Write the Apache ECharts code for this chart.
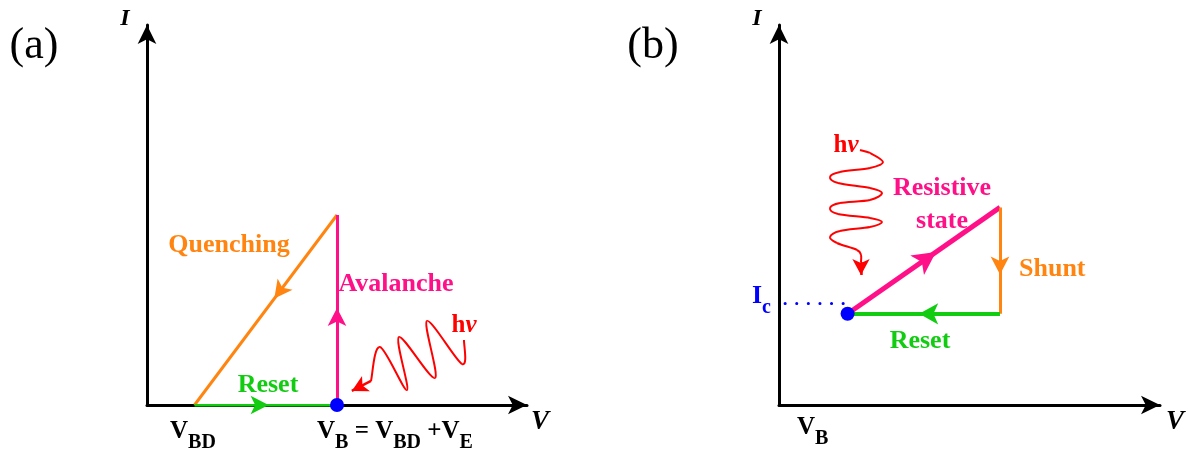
<!DOCTYPE html>
<html>
<head>
<meta charset="utf-8">
<script src="https://cdn.jsdelivr.net/npm/echarts@6/dist/echarts.min.js"></script>
<style>
  html, body { margin: 0; padding: 0; background: #fff; }
  #chart { width: 1188px; height: 450px; }
</style>
</head>
<body>
<div id="chart"></div>
<script>
// ---- Panel (a): SPAD cycle, points given as [V, I] in arbitrary units ----
const spadReset = [[1.25, 0], [5, 0]];            // V_BD -> V_B
const spadAvalanche = [[5, 0], [5, 5]];
const spadQuench = [[5, 5], [1.25, 0]];
const spadBias = [[5, 0]];
// incoming photon: crests and troughs of the wavy line, then its arrow to the bias point
const spadPhoton = [
  [5.895, 0.632], [6.132, 1.526], [6.842, 0.395], [6.632, 1.789],
  [7.579, 0.711], [7.368, 2.211], [8.289, 1.079], [8.342, 1.711]
];
const spadPhotonHit = [[5.895, 0.632], [5.39, 0.37]];

// ---- Panel (b): SNSPD cycle ----
const snspdResistive = [[1.8, 2.4], [5.8, 5.2]];
const snspdShunt = [[5.8, 5.2], [5.8, 2.4]];
const snspdReset = [[5.8, 2.4], [1.8, 2.4]];
const snspdBias = [[1.8, 2.4]];
const snspdIc = [[0.16, 2.67], [1.73, 2.67]];
const snspdPhoton = [
  [2.126, 6.711], [2.388, 6.632], [2.730, 6.395], [2.388, 6.237], [1.601, 6.132],
  [1.339, 6.0], [1.549, 5.842], [2.388, 5.711], [2.703, 5.579], [2.388, 5.395],
  [1.601, 5.316], [1.339, 5.184], [1.549, 5.026], [2.388, 4.921], [2.703, 4.816],
  [2.388, 4.684], [1.601, 4.579], [1.339, 4.421], [1.522, 4.263], [2.047, 4.079],
  [2.152, 3.947], [2.152, 3.763]
];
const snspdPhotonHit = [[2.152, 3.763], [2.152, 3.42]];

const ORANGE = '#ff8410', PINK = '#ff1088', GREEN = '#12cc12', RED = '#ff0000', BLUE = '#0000ff';
const SERIF = '"Liberation Serif", "Times New Roman", serif';

function axis(gridIndex) {
  return {
    type: 'value', gridIndex, min: 0, max: 10,
    splitLine: { show: false }, axisTick: { show: false }, axisLabel: { show: false },
    axisLine: {
      show: true, onZero: false,
      symbol: ['none', 'arrow'], symbolSize: [14, 19],
      lineStyle: { color: '#000', width: 3 }
    }
  };
}

// straight segment
function segment(path, color, width, g) {
  return {
    type: 'lines', coordinateSystem: 'cartesian2d', xAxisIndex: g, yAxisIndex: g,
    symbol: 'none', z: 3,
    lineStyle: { color, width, opacity: 1, curveness: 0 },
    data: [{ coords: path }]
  };
}

// arrow head centred part-way along a segment (t = fraction of its length), pointing along it
function arrowHead(path, t, color, size, g) {
  const a = path[0], b = path[1];
  const p = [a[0] + (b[0] - a[0]) * t, a[1] + (b[1] - a[1]) * t];
  const rot = Math.atan2(b[1] - a[1], b[0] - a[0]) * 180 / Math.PI - 90;
  return {
    type: 'scatter', xAxisIndex: g, yAxisIndex: g, data: [p],
    symbol: 'arrow', symbolSize: size, symbolRotate: rot, z: 5,
    itemStyle: { color, opacity: 1 }
  };
}

// wavy photon line: Catmull-Rom spline through the given points (pixel positions from the axes)
function wave(points, g) {
  return {
    type: 'custom', xAxisIndex: g, yAxisIndex: g, data: points, z: 3, silent: true,
    renderItem(params, api) {
      if (params.dataIndex !== 0) return null;
      const p = points.map(pt => api.coord(pt));
      const n = p.length;
      const children = [];
      for (let i = 0; i < n - 1; i++) {
        const p0 = p[Math.max(i - 1, 0)], p1 = p[i], p2 = p[i + 1], p3 = p[Math.min(i + 2, n - 1)];
        children.push({
          type: 'bezierCurve',
          shape: {
            x1: p1[0], y1: p1[1], x2: p2[0], y2: p2[1],
            cpx1: p1[0] + (p2[0] - p0[0]) / 6, cpy1: p1[1] + (p2[1] - p0[1]) / 6,
            cpx2: p2[0] - (p3[0] - p1[0]) / 6, cpy2: p2[1] - (p3[1] - p1[1]) / 6
          },
          style: { stroke: RED, lineWidth: 2, fill: 'none' }
        });
      }
      return { type: 'group', children };
    }
  };
}

function dot(points, g) {
  return {
    type: 'scatter', xAxisIndex: g, yAxisIndex: g, data: points,
    symbolSize: 14, z: 6, itemStyle: { color: BLUE, opacity: 1 }
  };
}

function label(x, y, text, color, size, extra) {
  return {
    type: 'text', x, y, z: 10,
    style: Object.assign({
      text, fill: color, fontFamily: SERIF, fontSize: size, fontWeight: 'bold',
      align: 'center', verticalAlign: 'middle'
    }, extra || {})
  };
}

// rich text with subscripts: main glyphs in "m", lowered subscripts in "s"
const subRich = (color, main, sub) => ({
  m: { fill: color, fontFamily: SERIF, fontSize: main, fontWeight: 'bold', lineHeight: main, verticalAlign: 'top' },
  s: { fill: color, fontFamily: SERIF, fontSize: sub, fontWeight: 'bold', lineHeight: main + 9, verticalAlign: 'bottom' }
});
function subLabel(x, y, text, color, main, sub) {
  return {
    type: 'text', x, y, z: 10,
    style: { text, rich: subRich(color, main, sub), align: 'left', verticalAlign: 'top' }
  };
}

const hvRich = {
  h: { fill: RED, fontFamily: SERIF, fontSize: 25, fontWeight: 'bold' },
  v: { fill: RED, fontFamily: SERIF, fontSize: 25, fontWeight: 'bold', fontStyle: 'italic' }
};

const option = {
  animation: false,
  backgroundColor: '#fff',
  grid: [
    { left: 147, top: 25, width: 380, height: 380 },
    { left: 779, top: 25, width: 381, height: 380 }
  ],
  xAxis: [axis(0), axis(1)],
  yAxis: [axis(0), axis(1)],
  series: [
    // panel (a)
    segment(spadQuench, ORANGE, 3, 0),
    arrowHead(spadQuench, 0.44, ORANGE, [14, 18], 0),
    segment(spadAvalanche, PINK, 3, 0),
    arrowHead(spadAvalanche, 0.51, PINK, [14, 18], 0),
    segment(spadReset, GREEN, 3, 0),
    arrowHead(spadReset, 0.52, GREEN, [14, 18], 0),
    wave(spadPhoton, 0),
    segment(spadPhotonHit, RED, 2.5, 0),
    arrowHead(spadPhotonHit, 1, RED, [13, 16], 0),
    dot(spadBias, 0),
    // panel (b)
    {
      type: 'line', xAxisIndex: 1, yAxisIndex: 1, data: snspdIc, showSymbol: false, z: 3,
      lineStyle: { color: BLUE, width: 3, type: [0.1, 11.5], cap: 'round' }
    },
    segment(snspdResistive, PINK, 5, 1),
    arrowHead(snspdResistive, 0.58, PINK, [18, 23], 1),
    segment(snspdShunt, ORANGE, 3, 1),
    arrowHead(snspdShunt, 0.63, ORANGE, [14, 18], 1),
    segment(snspdReset, GREEN, 4, 1),
    arrowHead(snspdReset, 0.53, GREEN, [16, 19], 1),
    wave(snspdPhoton, 1),
    segment(snspdPhotonHit, RED, 2.5, 1),
    arrowHead(snspdPhotonHit, 1, RED, [13, 16], 1),
    dot(snspdBias, 1)
  ],
  graphic: [
    label(34, 46, '(a)', '#000', 44, { fontWeight: 'normal' }),
    label(653, 46, '(b)', '#000', 44, { fontWeight: 'normal' }),
    label(125, 19, 'I', '#000', 24, { fontStyle: 'italic' }),
    label(757, 19, 'I', '#000', 24, { fontStyle: 'italic' }),
    label(540, 422, 'V', '#000', 27, { fontStyle: 'italic' }),
    label(1175, 422, 'V', '#000', 27, { fontStyle: 'italic' }),
    label(229, 245, 'Quenching', ORANGE, 26),
    label(396, 284, 'Avalanche', PINK, 26),
    label(268, 385, 'Reset', GREEN, 26),
    label(464, 326, '{h|h}{v|ν}', RED, 25, { rich: hvRich }),
    label(846, 146, '{h|h}{v|ν}', RED, 25, { rich: hvRich }),
    label(942, 205, 'Resistive\nstate', PINK, 26, { lineHeight: 33 }),
    label(1019, 269, 'Shunt', ORANGE, 26, { align: 'left' }),
    label(920, 341, 'Reset', GREEN, 26),
    subLabel(752, 283, '{m|I}{s|c}', BLUE, 26, 20),
    subLabel(170, 419, '{m|V}{s|BD}', '#000', 25, 20),
    subLabel(317, 419, '{m|V}{s|B}{m| = V}{s|BD}{m| +V}{s|E}', '#000', 25, 20),
    subLabel(797, 415, '{m|V}{s|B}', '#000', 25, 20)
  ]
};

const chart = echarts.init(document.getElementById('chart'), null, { renderer: 'canvas' });
chart.setOption(option);
</script>
</body>
</html>
